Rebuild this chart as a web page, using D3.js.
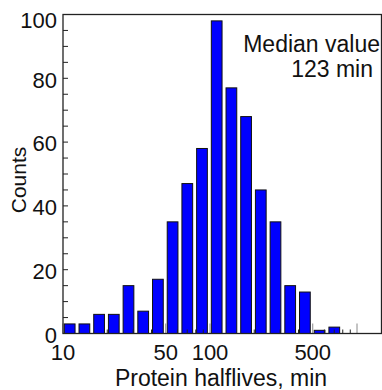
<!DOCTYPE html>
<html lang="en">
<head>
  <meta http-equiv="Content-Type" content="text/html; charset=UTF-8">
  <title>Protein halflives histogram</title>
  <style type="text/css">
    body { margin: 0; background: white; }
    svg { display: block; font-family: "Liberation Sans", Arial, sans-serif; }
  </style>
</head>
<body>
  <svg width="382" height="390"></svg>
  <script src="https://cdn.jsdelivr.net/npm/d3@7"></script>
  <script>
    // data: lower edge of each bin (log10 of halflife, min) and counts
    var binLog = [1.0, 1.1, 1.2, 1.3, 1.4, 1.5, 1.6, 1.7, 1.8, 1.9,
                  2.0, 2.1, 2.2, 2.3, 2.4, 2.5, 2.6, 2.7, 2.8];
    var counts = [3, 3, 6, 6, 15, 7, 17, 35, 47, 58,
                  98, 77, 68, 45, 35, 15, 13, 1, 2];
    var binStep = 0.1;
    var xLabelTicks = [10, 50, 100, 500];
    var xMajorTicks = [10, 50, 100, 500, 1000];
    var xMinorTicks = [20, 30, 40, 60, 70, 80, 90, 200, 300, 400, 600, 700, 800, 900];
    var yLabelTicks = [0, 20, 40, 60, 80, 100];

    var svg = d3.select("svg");
    // plot frame (don't use "top" - it's a window global)
    var pL = 63, pR = 381.5, pT = 14.5, pB = 333.5;

    // 1. scales
    var x = d3.scaleLog().domain([10, 100]).range([pL, 210]);
    var y = d3.scaleLinear().domain([0, 100]).range([pB, pT]);

    function binX0(d) { return x(Math.pow(10, d)); }
    function binX1(d) { return x(Math.pow(10, d + binStep)); }

    // 2. bars
    svg.append("g")
      .selectAll("rect")
      .data(binLog)
      .enter()
      .append("rect")
      .attr("x", function (d) { return binX0(d) + 0.09 * (binX1(d) - binX0(d)); })
      .attr("width", function (d) { return 0.73 * (binX1(d) - binX0(d)); })
      .attr("y", function (d, i) { return y(counts[i]); })
      .attr("height", function (d, i) { return y(0) - y(counts[i]); })
      .attr("fill", "#0000ff")
      .attr("stroke", "#111")
      .attr("stroke-width", 1);

    // 3. x ticks (drawn over bars)
    svg.append("g")
      .selectAll("line")
      .data(xMinorTicks)
      .enter()
      .append("line")
      .attr("x1", function (d) { return x(d); })
      .attr("x2", function (d) { return x(d); })
      .attr("y1", pB)
      .attr("y2", pB - 4)
      .attr("stroke", "#222")
      .attr("stroke-width", 1);

    svg.append("g")
      .selectAll("line")
      .data(xMajorTicks)
      .enter()
      .append("line")
      .attr("x1", function (d) { return x(d); })
      .attr("x2", function (d) { return x(d); })
      .attr("y1", pB)
      .attr("y2", pB - 10)
      .attr("stroke", "#888")
      .attr("stroke-width", 1);

    // y ticks every 5, inside
    svg.append("g")
      .selectAll("line")
      .data(y.ticks(20))
      .enter()
      .append("line")
      .attr("x1", pL)
      .attr("x2", pL + 5)
      .attr("y1", function (d) { return y(d); })
      .attr("y2", function (d) { return y(d); })
      .attr("stroke", "#222")
      .attr("stroke-width", 1);

    // frame
    svg.append("rect")
      .attr("x", pL)
      .attr("y", pT)
      .attr("width", pR - pL)
      .attr("height", pB - pT)
      .attr("fill", "none")
      .attr("stroke", "#222")
      .attr("stroke-width", 1.3);

    // 4. tick labels
    svg.append("g")
      .selectAll("text")
      .data(xLabelTicks)
      .enter()
      .append("text")
      .attr("x", function (d) { return x(d); })
      .attr("y", 360)
      .attr("text-anchor", "middle")
      .attr("font-size", 22)
      .attr("fill", "#111")
      .text(function (d) { return d; });

    svg.append("g")
      .selectAll("text")
      .data(yLabelTicks)
      .enter()
      .append("text")
      .attr("x", 57)
      .attr("y", function (d) { return y(d) + (d === 100 ? 6 : 1.5); })
      .attr("dy", "0.35em")
      .attr("text-anchor", "end")
      .attr("font-size", 22)
      .attr("fill", "#111")
      .text(function (d) { return d; });

    // 5. axis titles and annotation
    svg.append("text")
      .attr("x", 221)
      .attr("y", 386)
      .attr("text-anchor", "middle")
      .attr("font-size", 23)
      .attr("fill", "#111")
      .text("Protein halflives, min");

    svg.append("text")
      .attr("transform", "translate(26,180) rotate(-90)")
      .attr("text-anchor", "middle")
      .attr("font-size", 21)
      .attr("fill", "#111")
      .text("Counts");

    svg.append("text")
      .attr("x", 380)
      .attr("y", 52)
      .attr("text-anchor", "end")
      .attr("font-size", 23)
      .attr("fill", "#111")
      .text("Median value");

    svg.append("text")
      .attr("x", 373)
      .attr("y", 77)
      .attr("text-anchor", "end")
      .attr("font-size", 23)
      .attr("fill", "#111")
      .text("123 min");
  </script>
</body>
</html>
